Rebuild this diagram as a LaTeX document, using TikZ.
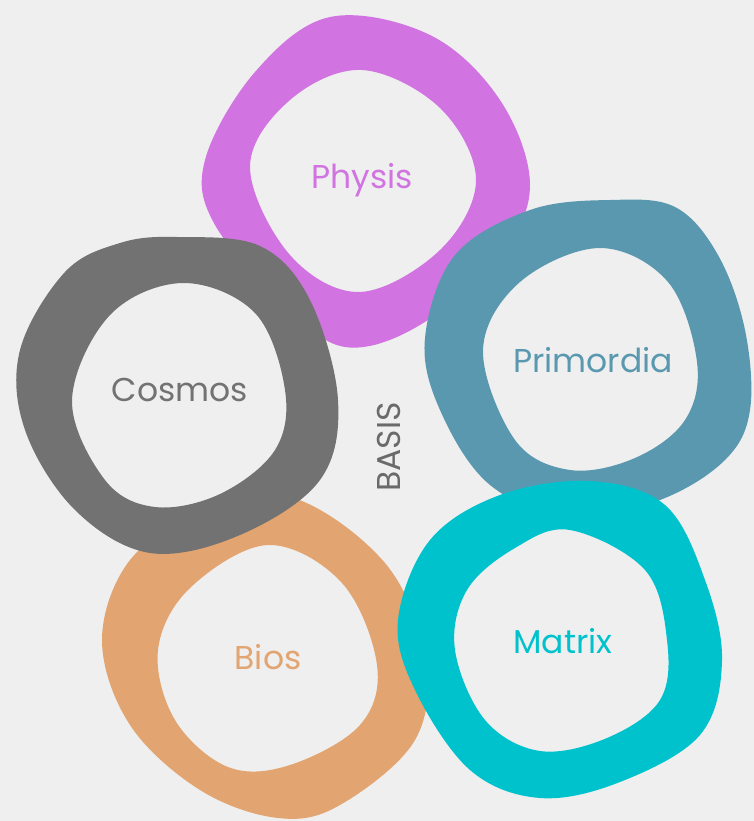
\documentclass[tikz,border=0pt]{standalone}
\usepackage{fontspec}
\setmainfont{Poppins}
\definecolor{bgcol}{HTML}{EFEFEF}
\definecolor{physiscol}{HTML}{D174E2}
\definecolor{primcol}{HTML}{5A98B0}
\definecolor{cosmoscol}{HTML}{727272}
\definecolor{bioscol}{HTML}{E2A470}
\definecolor{matrixcol}{HTML}{00C2CC}
\definecolor{basiscol}{HTML}{6A6A6A}
\begin{document}
\begin{tikzpicture}[x=1pt, y=-1pt,
  ring/.style={even odd rule},
  word/.style={font=\fontsize{33}{33}\selectfont, inner sep=0pt}]
\useasboundingbox (0,0) rectangle (754,821);
\fill[bgcol] (0,0) rectangle (754,821);
% Physis
\fill[physiscol, ring] plot[smooth cycle, tension=0.6] coordinates {(330,17) (430,35) (500,100) (530,185) (500,255) (420,325) (345,347) (285,305) (215,225) (205,160) (255,72)}
  plot[smooth cycle, tension=0.6] coordinates {(362,70) (440,108) (476,180) (440,250) (360,292) (290,255) (250,167) (290,100)};
% Bios
\fill[bioscol, ring] plot[smooth cycle, tension=0.6] coordinates {(290,497) (385,563) (425,657) (415,740) (340,805) (278,818) (200,790) (130,725) (102,640) (130,560) (200,515)}
  plot[smooth cycle, tension=0.6] coordinates {(268,545) (342,583) (377,665) (360,725) (290,765) (228,767) (175,720) (158,650) (190,588)};
% Cosmos
\fill[cosmoscol, ring] plot[smooth cycle, tension=0.6] coordinates {(177,237) (260,246) (310,300) (338,400) (320,480) (240,535) (150,553) (75,510) (25,430) (20,350) (65,272) (120,243)}
  plot[smooth cycle, tension=0.6] coordinates {(183,283) (255,313) (285,390) (275,450) (220,494) (155,507) (105,480) (72,400) (110,315)};
% Primordia
\fill[primcol, ring] plot[smooth cycle, tension=0.6] coordinates {(610,200) (675,207) (718,255) (745,330) (750,410) (725,460) (660,500) (572,518) (490,485) (440,410) (425,338) (455,255) (530,210)}
  plot[smooth cycle, tension=0.6] coordinates {(600,248) (668,282) (697,362) (685,420) (635,458) (570,470) (515,440) (483,350) (520,282)};
% Matrix
\fill[matrixcol, ring] plot[smooth cycle, tension=0.6] coordinates {(590,481) (665,505) (705,580) (722,661) (700,735) (620,782) (540,798) (470,770) (415,690) (398,620) (430,540) (500,495)}
  plot[smooth cycle, tension=0.6] coordinates {(570,530) (645,570) (667,640) (660,700) (607,738) (540,751) (485,720) (455,650) (467,590) (515,548)};
\node[word, text=physiscol] (physis) at (362,180) {Physis};
\node[word, text=primcol] (primordia) at (593,360) {Primordia};
\node[word, text=cosmoscol] (cosmos) at (180,390) {Cosmos};
\node[word, text=bioscol] (bios) at (268,657) {Bios};
\node[word, text=matrixcol] (matrix) at (563,641) {Matrix};
\node[word, text=basiscol, rotate=90] (basis) at (389,447) {BASIS};
\end{tikzpicture}
\end{document}
